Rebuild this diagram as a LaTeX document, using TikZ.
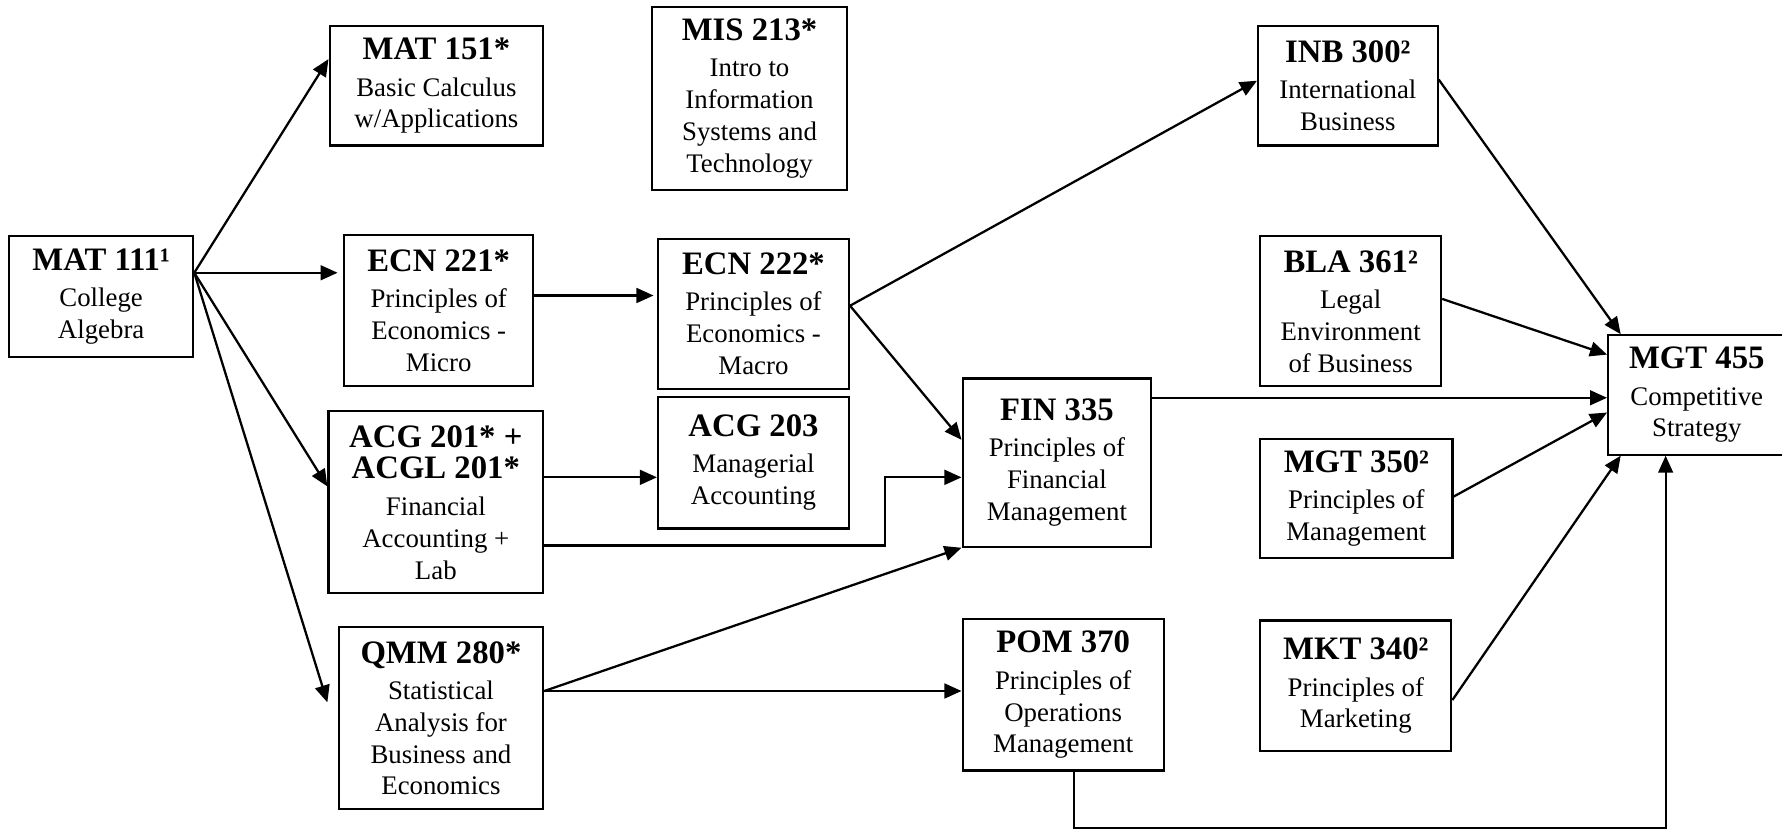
\documentclass[tikz,border=0pt]{standalone}
\usepackage{fontspec}
\setmainfont{Liberation Serif}
\usetikzlibrary{arrows.meta}
\newcommand{\crs}[1]{{\fontsize{14.4}{16}\selectfont\bfseries #1}}
\begin{document}
\begin{tikzpicture}[x=0.5pt, y=-0.5pt,
    box/.style={draw, line width=0.95pt, align=center, inner sep=0pt,
      font=\fontsize{11.8}{14}\selectfont},
    arr/.style={-{Triangle[length=7.5pt,width=6.5pt]}, line width=1pt}]
  \useasboundingbox (0,0) rectangle (1568,729);
  \draw
    (89,261) node[box, minimum width=81pt, minimum height=53pt] (mat111)
      {\crs{MAT 111¹}\\[2pt] College\\ Algebra}
    (384,75.5) node[box, minimum width=94pt, minimum height=52.5pt] (mat151)
      {\crs{MAT 151*}\\[2pt] Basic Calculus\\ w/Applications}
    (659.5,86.5) node[box, minimum width=85.5pt, minimum height=80.5pt] (mis213)
      {\crs{MIS 213*}\\[2pt] Intro to\\ Information\\ Systems and\\ Technology}
    (386,273.5) node[box, minimum width=83pt, minimum height=66.5pt] (ecn221)
      {\crs{ECN 221*}\\[2pt] Principles of\\ Economics -\\ Micro}
    (663,276) node[box, minimum width=84pt, minimum height=66pt] (ecn222)
      {\crs{ECN 222*}\\[2pt] Principles of\\ Economics -\\ Macro}
    (383.5,442) node[box, minimum width=94.5pt, minimum height=80pt] (acg201)
      {\crs{ACG 201* +}\\ \crs{ACGL 201*}\\[2pt] Financial\\ Accounting +\\ Lab}
    (663,407) node[box, minimum width=84pt, minimum height=58pt] (acg203)
      {\crs{ACG 203}\\[2pt] Managerial\\ Accounting}
    (388,632) node[box, minimum width=90pt, minimum height=80pt] (qmm280)
      {\crs{QMM 280*}\\[2pt] Statistical\\ Analysis for\\ Business and\\ Economics}
    (930,407) node[box, minimum width=83pt, minimum height=74pt] (fin335)
      {\crs{FIN 335}\\[2pt] Principles of\\ Financial\\ Management}
    (935.5,611.5) node[box, minimum width=88.5pt, minimum height=66.5pt] (pom370)
      {\crs{POM 370}\\[2pt] Principles of\\ Operations\\ Management}
    (1186,75.5) node[box, minimum width=79pt, minimum height=52.5pt] (inb300)
      {\crs{INB 300²}\\[2pt] International\\ Business}
    (1188.5,274) node[box, minimum width=79.5pt, minimum height=66pt] (bla361)
      {\crs{BLA 361²}\\[2pt] Legal\\ Environment\\ of Business}
    (1193.5,438.5) node[box, minimum width=84.5pt, minimum height=52.5pt] (mgt350)
      {\crs{MGT 350²}\\[2pt] Principles of\\ Management}
    (1193,603.5) node[box, minimum width=84pt, minimum height=57.5pt] (mkt340)
      {\crs{MKT 340²}\\[2pt] Principles of\\ Marketing}
    (1493,347.5) node[box, minimum width=78pt, minimum height=52.5pt] (mgt455)
      {\crs{MGT 455}\\[2pt] Competitive\\ Strategy};
  \begin{scope}[arr]
    \draw ([yshift=10.5pt]mat111.east) -- ([yshift=11.75pt]mat151.west);
    \draw ([yshift=10.5pt]mat111.east) -- ([xshift=-2.5pt,yshift=16.75pt]ecn221.west);
    \draw ([yshift=10.5pt]mat111.east) -- ([yshift=7pt]acg201.west);
    \draw ([yshift=10.5pt]mat111.east) -- ([xshift=-4.5pt,yshift=7pt]qmm280.west);
    \draw ([yshift=6.75pt]ecn221.east) -- ([xshift=-1.5pt,yshift=8pt]ecn222.west);
    \draw ([yshift=3.5pt]ecn222.east) -- ([yshift=2.25pt]inb300.west);
    \draw ([yshift=3.5pt]ecn222.east) -- ([yshift=10pt]fin335.west);
    \draw ([yshift=11pt]acg201.east) -- ([yshift=-6.5pt]acg203.west);
    \draw ([yshift=-19pt]acg201.east) -- ++(150pt,0) |- ([yshift=-6.5pt]fin335.west);
    \draw ([yshift=12pt]qmm280.east) -- (fin335.south west);
    \draw ([yshift=12pt]qmm280.east) -- ([yshift=1.75pt]pom370.west);
    \draw ([yshift=28.5pt]fin335.east) -- ([yshift=-1.25pt]mgt455.west);
    \draw ([yshift=2.75pt]inb300.east) -- ([xshift=6pt]mgt455.north west);
    \draw ([yshift=5.5pt]bla361.east) -- ([yshift=17.75pt]mgt455.west);
    \draw ([yshift=0.75pt]mgt350.east) -- ([yshift=-7.75pt]mgt455.west);
    \draw ([yshift=-6.25pt]mkt340.east) -- ([xshift=6pt]mgt455.south west);
    \draw ([xshift=4.75pt]pom370.south) -- ++(0,-24.85pt) -| ([xshift=-13.7pt]mgt455.south);
  \end{scope}
\end{tikzpicture}
\end{document}
